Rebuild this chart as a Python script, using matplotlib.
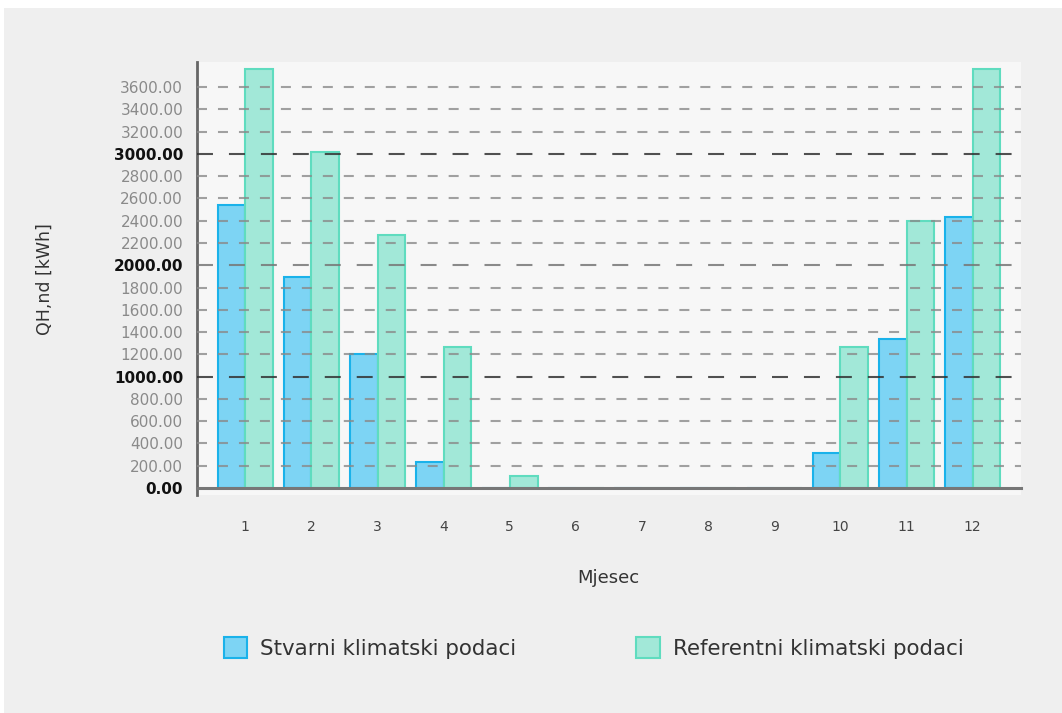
import numpy as np
import matplotlib.pyplot as plt
from matplotlib.patches import Patch, Rectangle

plt.rcParams['lines.scale_dashes'] = False

# data
months = [1, 2, 3, 4, 5, 6, 7, 8, 9, 10, 11, 12]
stvarni = [2540, 1895, 1205, 235, 0, 0, 0, 0, 0, 315, 1340, 2435]
referentni = [3760, 3015, 2270, 1265, 105, 0, 0, 0, 0, 1265, 2395, 3760]
yticks = np.arange(0, 3601, 200)
ylabel = 'QH,nd [kWh]'
xlabel = 'Mjesec'
series_names = ['Stvarni klimatski podaci', 'Referentni klimatski podaci']

blue_face = '#7dd4f4'
blue_edge = '#1ab2ea'
green_face = '#a2e8d8'
green_edge = '#5fdcbf'

fig = plt.figure(figsize=(10.62, 7.13), dpi=100, facecolor='white')
# gray panel behind the chart
fig.patches.append(Rectangle((4 / 1062, 0), 1, 1 - 8 / 713, transform=fig.transFigure,
                             facecolor='#efefef', edgecolor='none', zorder=-10))

ax = fig.add_axes([197 / 1062, 1 - 495 / 713, (1021 - 197) / 1062, (495 - 62) / 713])
ax.set_facecolor('#f7f7f7')

x = np.array(months)
w = 0.42
ax.bar(x - w / 2, stvarni, width=w, facecolor=blue_face, edgecolor=blue_edge,
       linewidth=1.5, zorder=2)
ax.bar(x + w / 2, referentni, width=w, facecolor=green_face, edgecolor=green_edge,
       linewidth=1.5, zorder=2)

# dashed grid, drawn over the bars like in the reference
for v in yticks[1:]:
    if v % 1000 == 0:
        col = '#777777' if v == 2000 else '#333333'
        ax.axhline(v, color=col, linewidth=1.5, dashes=(11.5, 11.5), zorder=3, alpha=0.85)
    else:
        ax.axhline(v, color='#8a8a8a', linewidth=1.5, dashes=(7.2, 7.9), zorder=3, alpha=0.8)

ax.set_xlim(0.27, 12.73)
ax.set_ylim(-63, 3825)

ax.set_yticks(yticks)
ax.set_yticklabels([f'{v:.2f}' for v in yticks])
for lab, v in zip(ax.get_yticklabels(), yticks):
    if v % 1000 == 0:
        lab.set_fontweight('bold')
        lab.set_color('#111111')
    else:
        lab.set_color('#8a8a8a')
ax.tick_params(axis='y', length=0, pad=10, labelsize=11)

ax.set_xticks(months)
ax.set_xticklabels([str(m) for m in months])
ax.tick_params(axis='x', length=0, pad=23, labelsize=10, labelcolor='#444444')

for s in ['top', 'right']:
    ax.spines[s].set_visible(False)
ax.spines['bottom'].set_position(('data', 0))
ax.spines['bottom'].set_color('#777777')
ax.spines['bottom'].set_linewidth(2.2)
ax.spines['bottom'].set_zorder(4)
ax.spines['left'].set_color('#666666')
ax.spines['left'].set_linewidth(2)

fig.text(45 / 1062, 1 - 279 / 713, ylabel, rotation=90, ha='center', va='center',
         fontsize=12.5, color='#333333')
fig.text(608 / 1062, 1 - 578 / 713, xlabel, ha='center', va='center',
         fontsize=13, color='#333333')

handles = [Patch(facecolor=blue_face, edgecolor=blue_edge, linewidth=1.5),
           Patch(facecolor=green_face, edgecolor=green_edge, linewidth=1.5)]
fig.legend(handles, series_names, loc='center', bbox_to_anchor=(0.559, 1 - 648 / 713),
           ncol=2, frameon=False, fontsize=15.4, handlelength=1.1, handleheight=1.1,
           handletextpad=0.6, columnspacing=5.6, labelcolor='#333333')

fig.savefig('out.png', dpi=100, facecolor=fig.get_facecolor())
